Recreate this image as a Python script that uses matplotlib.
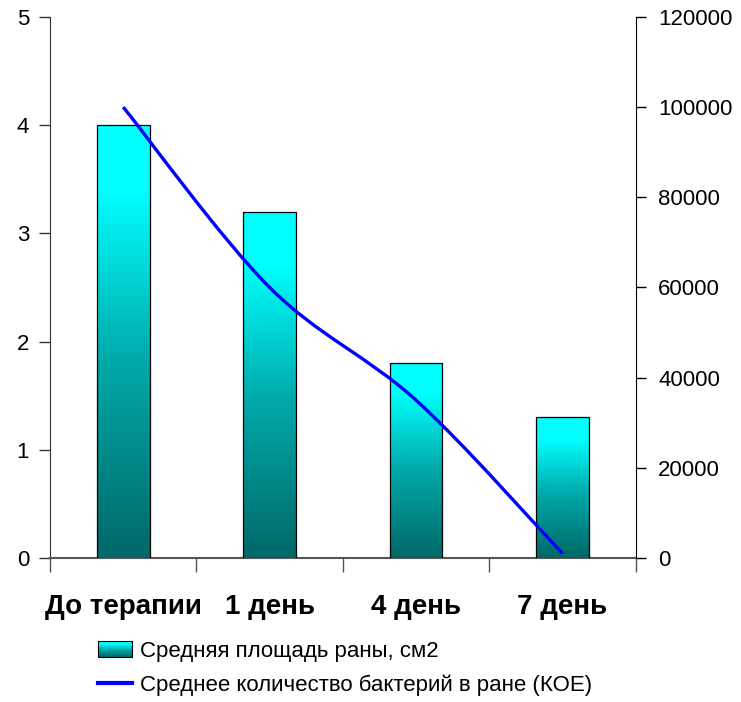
import numpy as np
import matplotlib
matplotlib.use("Agg")
import matplotlib.pyplot as plt
from matplotlib.colors import LinearSegmentedColormap
from matplotlib.patches import Rectangle, PathPatch
from matplotlib.path import Path
from matplotlib.lines import Line2D
from matplotlib.legend_handler import HandlerBase

plt.rcParams['font.family'] = ['Liberation Sans', 'DejaVu Sans']

# данные
days = ['До терапии', '1 день', '4 день', '7 день']
wound_area = [4.0, 3.2, 1.8, 1.3]               # см2
bacteria = [100000, 60000, 35000, 1000]         # КОЕ

area_label = 'Средняя площадь раны, см2'
bact_label = 'Среднее количество бактерий в ране (КОЕ)'

teal = LinearSegmentedColormap.from_list(
    'teal', [(0.0, '#006868'), (0.45, '#00a8a8'), (0.85, '#00ffff'), (1.0, '#00ffff')])


def smooth_path(xs, ys):
    # сглаженная линия как в Excel (кривые Безье через точки)
    pts = np.column_stack([xs, ys]).astype(float)
    n = len(pts)
    verts = [pts[0]]
    codes = [Path.MOVETO]
    for i in range(n - 1):
        p0 = pts[i - 1] if i > 0 else pts[i]
        p1 = pts[i]
        p2 = pts[i + 1]
        p3 = pts[i + 2] if i + 2 < n else pts[i + 1]
        c1 = p1 + (p2 - p0) / 6.0
        c2 = p2 - (p3 - p1) / 6.0
        verts += [c1, c2, p2]
        codes += [Path.CURVE4] * 3
    return Path(verts, codes)


class GradientHandler(HandlerBase):
    def create_artists(self, legend, orig_handle, xdescent, ydescent,
                       width, height, fontsize, trans):
        arts = []
        n = 16
        for i in range(n):
            r = Rectangle((-xdescent, -ydescent + i * height / n), width, height / n + 0.3,
                          facecolor=teal(i / (n - 1)), edgecolor='none', transform=trans)
            arts.append(r)
        arts.append(Rectangle((-xdescent, -ydescent), width, height, facecolor='none',
                              edgecolor='black', linewidth=0.8, transform=trans))
        return arts


fig = plt.figure(figsize=(7.41, 7.02), dpi=100)
ax = fig.add_axes([0.0675, 0.205, 0.7905, 0.771])
ax2 = ax.twinx()

x = np.arange(len(days))
bars = ax.bar(x, wound_area, width=0.36, facecolor='none', edgecolor='black',
              linewidth=0.9, zorder=3)
grad = np.linspace(0, 1, 256).reshape(-1, 1)
for b in bars:
    x0, y0 = b.get_x(), b.get_y()
    img = ax.imshow(grad, cmap=teal, origin='lower', aspect='auto', zorder=2,
                    extent=[x0, x0 + b.get_width(), y0, y0 + b.get_height()])
    img.set_clip_path(b)

ax.set_xlim(-0.5, len(days) - 0.5)
ax.set_ylim(0, 5)
ax.set_yticks(range(0, 6))
ax.set_xticks(x)
ax.set_xticklabels(days, fontsize=20, fontweight='bold')
ax.set_xticks(np.arange(-0.5, len(days), 1.0), minor=True)
ax.tick_params(axis='x', which='major', length=0, pad=26)
ax.tick_params(axis='x', which='minor', length=10, width=1, color='#555555')
ax.tick_params(axis='y', length=8, width=1, pad=7, labelsize=16, color='#333333')
ax.spines['top'].set_visible(False)
ax.spines['right'].set_visible(False)
ax.spines['left'].set_color('#333333')
ax.spines['bottom'].set_color('#555555')
ax.spines['bottom'].set_linewidth(1.5)

# линия по правой оси
ax2.add_patch(PathPatch(smooth_path(x, bacteria), facecolor='none',
                        edgecolor='#0000ff', linewidth=2.4, capstyle='butt'))
ax2.set_ylim(0, 120000)
ax2.set_yticks(range(0, 120001, 20000))
ax2.tick_params(axis='y', length=7, width=1, pad=9, labelsize=16)
for s in ['top', 'left', 'bottom']:
    ax2.spines[s].set_visible(False)

handles = [Rectangle((0, 0), 1, 1), Line2D([], [], color='#0000ff', linewidth=3)]
fig.legend(handles, [area_label, bact_label], loc='upper left',
           bbox_to_anchor=(0.132, 0.087 + 0.0), frameon=False, fontsize=16,
           handlelength=1.55, handletextpad=0.35, labelspacing=0.55, borderpad=0,
           borderaxespad=0, handler_map={Rectangle: GradientHandler()})

fig.savefig('out.png', dpi=100)
